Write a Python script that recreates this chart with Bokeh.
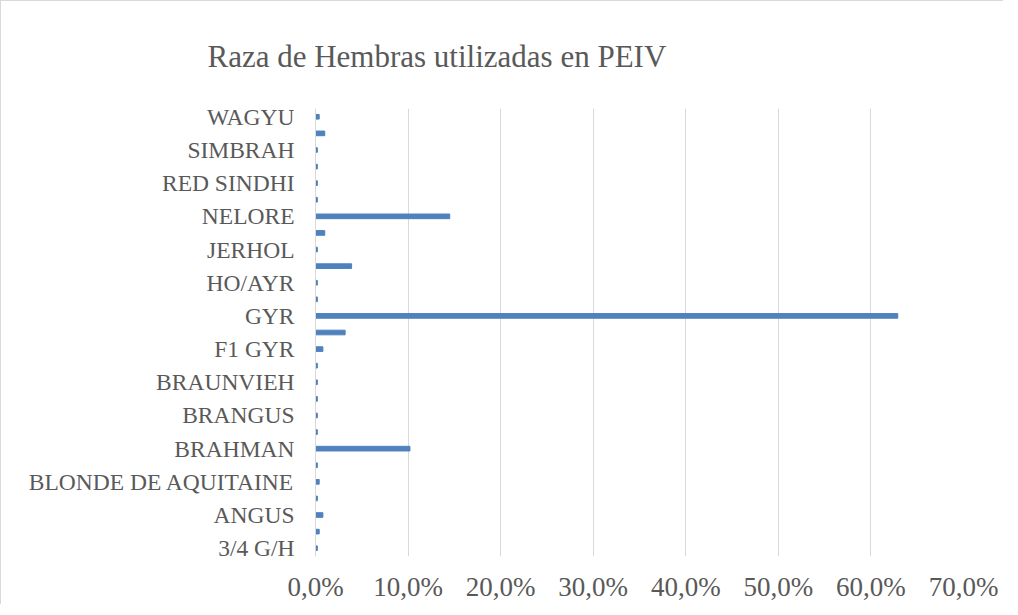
from bokeh.plotting import figure
from bokeh.models import Range1d, FixedTicker, ColumnDataSource
from bokeh.embed import file_html
from bokeh.resources import INLINE

# Data (percent of females by breed; every other category label is hidden on the axis, as in the original)
breeds = [
    "3/4 G/H", "5/8 G/H", "ANGUS", "AYRSHIRE", "BLONDE DE AQUITAINE", "BON",
    "BRAHMAN", "BRAHMAN ROJO", "BRANGUS", "BRANGUS ROJO", "BRAUNVIEH", "CHAROLAIS",
    "F1 GYR", "GIROLANDO", "GYR", "GYR LECHERO", "HO/AYR", "HOLSTEIN", "JERHOL",
    "JERSEY", "NELORE", "NORMANDO", "RED SINDHI", "ROMOSINUANO", "SIMBRAH",
    "SIMMENTAL", "WAGYU",
]
shares = [
    0.2, 0.4, 0.8, 0.2, 0.4, 0.2,
    10.2, 0.2, 0.2, 0.2, 0.2, 0.2,
    0.8, 3.2, 62.9, 0.2, 0.2, 3.9, 0.2,
    1.0, 14.5, 0.2, 0.2, 0.2, 0.2,
    1.0, 0.4,
]
x_ticks = [0, 10, 20, 30, 40, 50, 60, 70]
x_tick_labels = ["0,0%", "10,0%", "20,0%", "30,0%", "40,0%", "50,0%", "60,0%", "70,0%"]
title_text = "Raza de Hembras utilizadas en PEIV"

idx = list(range(len(breeds)))
src = ColumnDataSource(dict(y=idx, v=shares, name=breeds))

TEXT = "#595959"
GRID = "#D9D9D9"
FONT = "Liberation Serif"

p = figure(
    width=1002, height=599,
    output_backend="svg", toolbar_location=None,
    x_range=Range1d(0, 70), y_range=Range1d(-0.5, len(breeds) - 0.5),
    min_border_left=314, min_border_right=40, min_border_top=107, min_border_bottom=44,
    frame_width=648, frame_height=448,
    title=title_text,
)
p.styles = {"border-left": "1px solid #D9D9D9", "border-top": "1px solid #D9D9D9"}
p.outline_line_color = None
p.background_fill_color = "white"
p.border_fill_color = "white"

p.hbar(y="y", right="v", left=0, height=0.28, source=src, color="#4F81BD")

# title
p.title.text_font = FONT
p.title.text_font_size = "31px"
p.title.text_font_style = "normal"
p.title.text_color = TEXT
p.title.align = "left"
p.title.offset = -108
p.title.standoff = 70

# x axis
p.xaxis.ticker = FixedTicker(ticks=x_ticks)
p.xaxis.major_label_overrides = {t: l for t, l in zip(x_ticks, x_tick_labels)}
p.xaxis.axis_line_color = None
p.xaxis.major_tick_line_color = None
p.xaxis.minor_tick_line_color = None
p.xaxis.major_label_text_font = FONT
p.xaxis.major_label_text_font_size = "27px"
p.xaxis.major_label_text_color = TEXT
p.xaxis.major_label_standoff = 9
p.xgrid.ticker = FixedTicker(ticks=x_ticks)
p.xgrid.grid_line_color = GRID
p.ygrid.grid_line_color = None

# y axis (every other category labelled)
shown = idx[::2]
p.yaxis.ticker = FixedTicker(ticks=shown)
p.yaxis.major_label_overrides = {i: breeds[i] for i in shown}
p.yaxis.axis_line_color = GRID
p.yaxis.major_tick_line_color = None
p.yaxis.minor_tick_line_color = None
p.yaxis.major_label_text_font = FONT
p.yaxis.major_label_text_font_size = "23.5px"
p.yaxis.major_label_text_color = TEXT
p.yaxis.major_label_standoff = 15

open("out.html", "w").write(file_html(p, INLINE))
